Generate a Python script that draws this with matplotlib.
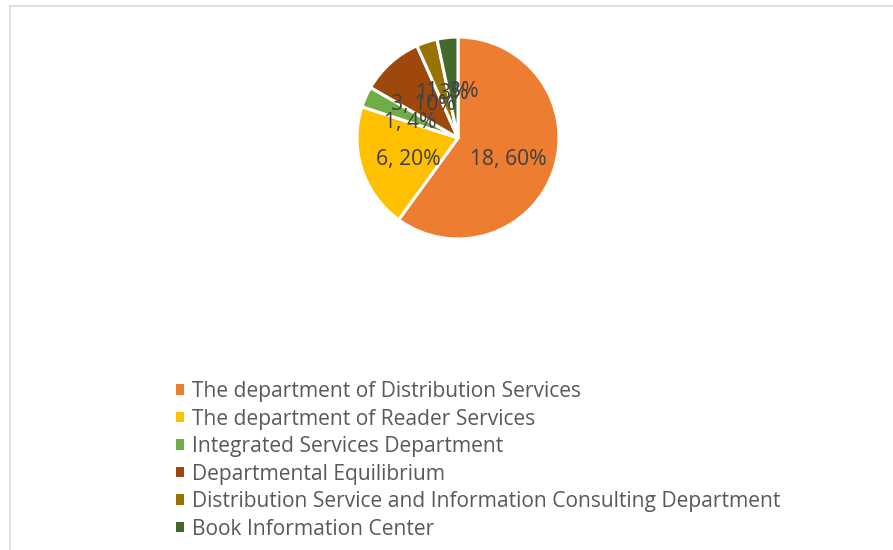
import matplotlib
matplotlib.use("Agg")
import numpy as np
import matplotlib.pyplot as plt
from matplotlib.patches import Rectangle

# data
departments = [
    "The department of Distribution Services",
    "The department of Reader Services",
    "Integrated Services Department",
    "Departmental Equilibrium",
    "Distribution Service and Information Consulting Department",
    "Book Information Center",
]
counts = [18, 6, 1, 3, 1, 1]
pct_labels = [60, 20, 4, 10, 3, 3]  # as printed on the chart
colors = ["#ED7D31", "#FFC000", "#70AD47", "#9E480E", "#997300", "#43682B"]

plt.rcParams['font.family'] = ['Open Sans', 'DejaVu Sans']

fig = plt.figure(figsize=(8.93, 5.5), dpi=100)

# pie axes: centre ~(458,138) px, radius ~101 px
W, H = 893, 550
cx, cy, r = 458, 138, 101
ax = fig.add_axes([(cx - r) / W, (H - cy - r) / H, 2 * r / W, 2 * r / H])
wedges, _ = ax.pie(counts, colors=colors, startangle=90, counterclock=False,
                   wedgeprops=dict(edgecolor="white", linewidth=2.2))
ax.set_xlim(-1, 1)
ax.set_ylim(-1, 1)
ax.set_aspect("equal")
for w in wedges:
    w.set_clip_on(False)

# data labels inside slices
for w, n, p in zip(wedges, counts, pct_labels):
    mid = np.deg2rad((w.theta1 + w.theta2) / 2)
    d = 0.52
    ax.text(d * np.cos(mid), d * np.sin(mid) - 0.03, f"{n}, {p}%", ha="center",
            va="center_baseline", fontsize=15.2, color="#404040", clip_on=False)

# legend
fig.legend(wedges, departments, loc="upper left",
           bbox_to_anchor=(176 / W, 1 - 381 / H), frameon=False,
           fontsize=15.1, labelcolor="#595959",
           handlelength=0.4, handleheight=0.4, handletextpad=0.38,
           labelspacing=0.31, borderaxespad=0, borderpad=0)
for h in fig.legends[0].legend_handles:
    h.set_edgecolor("none")

# chart area border (only left and top visible)
fig.add_artist(Rectangle((9.5 / W, -0.1), 1.2, 1.1 - 6.5 / H,
                         transform=fig.transFigure, fill=False,
                         edgecolor="#D9D9D9", linewidth=1.2))

fig.savefig("out.png", dpi=100)
